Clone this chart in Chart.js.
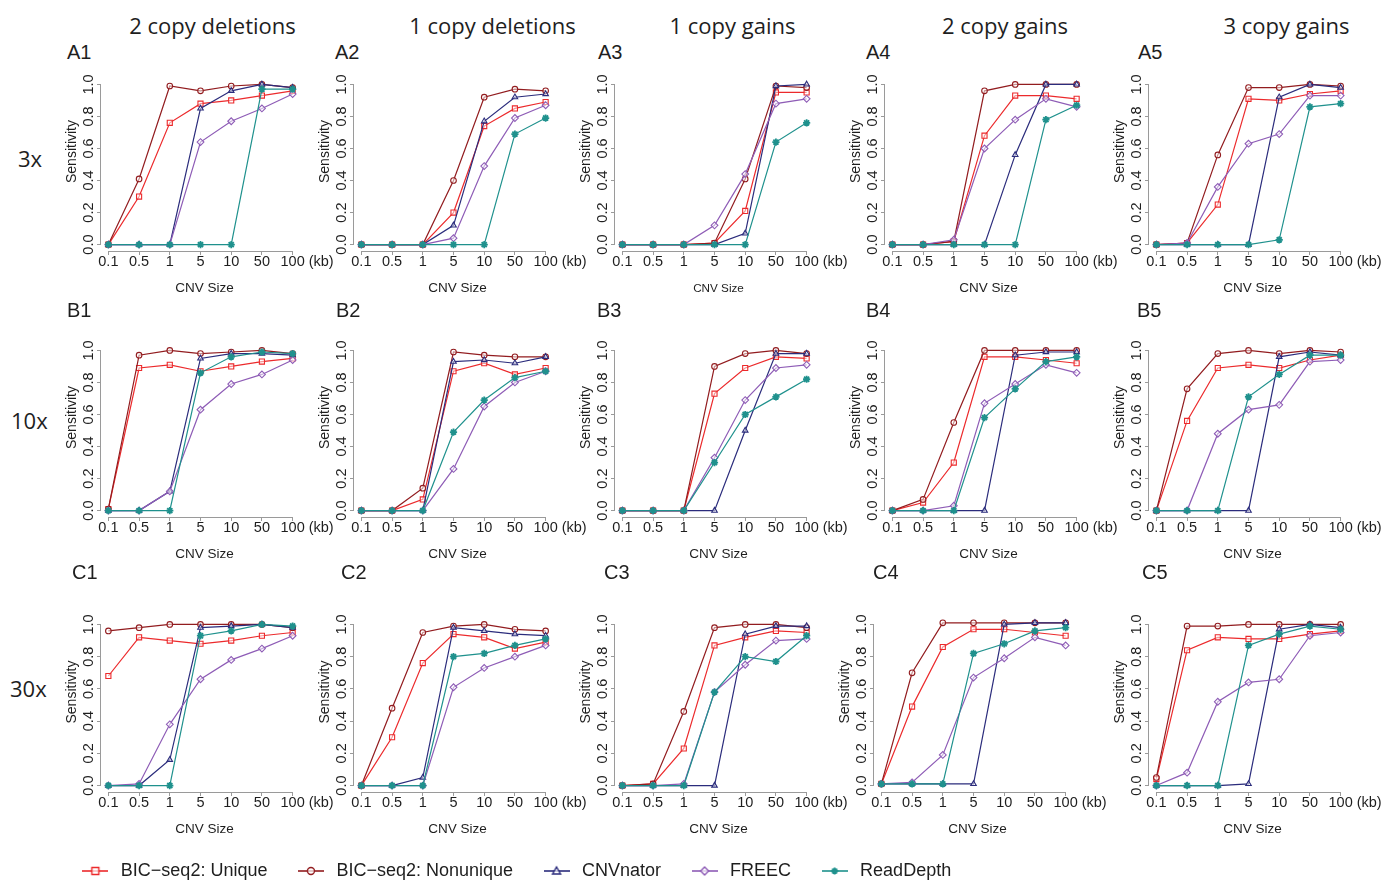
<!DOCTYPE html>
<html>
<head>
<meta charset="utf-8">
<script src="https://cdn.jsdelivr.net/npm/chart.js@4.4.1/dist/chart.umd.min.js"></script>
<style>
  body { margin: 0; background: #fff; width: 1381px; height: 883px; position: relative; overflow: hidden; }
  canvas { position: absolute; }
  .t { position: absolute; white-space: nowrap; color: #1e1e1e; }
  .head { font-family: 'Open Sans', sans-serif; font-size: 22px; transform: translate(-50%, -50%); }
  .cov { font-family: 'Open Sans', sans-serif; font-size: 22px; transform: translateY(-50%); }
  .pl { font-family: 'Liberation Sans', Arial, sans-serif; font-size: 20px; transform: translateY(-50%); }
</style>
</head>
<body>
<script>
const sizes = ['0.1', '0.5', '1', '5', '10', '50', '100'];
const yTicks = [0, 0.2, 0.4, 0.6, 0.8, 1.0];
const methods = ['BIC−seq2: Unique', 'BIC−seq2: Nonunique', 'CNVnator', 'FREEC', 'ReadDepth'];
const cnvTypes = ['2 copy deletions', '1 copy deletions', '1 copy gains', '2 copy gains', '3 copy gains'];
const coverages = ['3x', '10x', '30x'];
const xTitle = 'CNV Size', yTitle = 'Sensitivity', unit = '(kb)';

// sensitivity per panel, one row per method (same order as `methods`)
const A1 = [[0, 0.30, 0.76, 0.88, 0.90, 0.93, 0.96],
            [0, 0.41, 0.99, 0.96, 0.99, 1.00, 0.98],
            [0, 0, 0, 0.85, 0.96, 1.00, 0.98],
            [0, 0, 0, 0.64, 0.77, 0.85, 0.94],
            [0, 0, 0, 0, 0, 0.97, 0.97]];
const A2 = [[0, 0, 0, 0.20, 0.74, 0.85, 0.89],
            [0, 0, 0, 0.40, 0.92, 0.97, 0.96],
            [0, 0, 0, 0.12, 0.77, 0.92, 0.94],
            [0, 0, 0, 0.04, 0.49, 0.79, 0.87],
            [0, 0, 0, 0, 0, 0.69, 0.79]];
const A3 = [[0, 0, 0, 0.01, 0.21, 0.95, 0.95],
            [0, 0, 0, 0.01, 0.41, 0.99, 0.98],
            [0, 0, 0, 0, 0.07, 0.99, 1.00],
            [0, 0, 0, 0.12, 0.44, 0.88, 0.91],
            [0, 0, 0, 0, 0, 0.64, 0.76]];
const A4 = [[0, 0, 0.02, 0.68, 0.93, 0.93, 0.91],
            [0, 0, 0.02, 0.96, 1.00, 1.00, 1.00],
            [0, 0, 0, 0, 0.56, 1.00, 1.00],
            [0, 0, 0.03, 0.60, 0.78, 0.91, 0.86],
            [0, 0, 0, 0, 0, 0.78, 0.87]];
const A5 = [[0, 0.01, 0.25, 0.91, 0.90, 0.94, 0.96],
            [0, 0.01, 0.56, 0.98, 0.98, 1.00, 0.99],
            [0, 0, 0, 0, 0.92, 1.00, 0.98],
            [0, 0.01, 0.36, 0.63, 0.69, 0.93, 0.93],
            [0, 0, 0, 0, 0.03, 0.86, 0.88]];
const B1 = [[0.01, 0.89, 0.91, 0.87, 0.90, 0.93, 0.95],
            [0.01, 0.97, 1.00, 0.98, 0.99, 1.00, 0.98],
            [0, 0, 0.12, 0.95, 0.98, 0.98, 0.97],
            [0, 0, 0.12, 0.63, 0.79, 0.85, 0.94],
            [0, 0, 0, 0.86, 0.96, 0.99, 0.98]];
const B2 = [[0, 0, 0.07, 0.87, 0.92, 0.85, 0.89],
            [0, 0, 0.14, 0.99, 0.97, 0.96, 0.96],
            [0, 0, 0, 0.93, 0.94, 0.92, 0.96],
            [0, 0, 0, 0.26, 0.65, 0.80, 0.87],
            [0, 0, 0, 0.49, 0.69, 0.83, 0.87]];
const B3 = [[0, 0, 0, 0.73, 0.89, 0.96, 0.95],
            [0, 0, 0, 0.90, 0.98, 1.00, 0.98],
            [0, 0, 0, 0, 0.50, 0.98, 0.98],
            [0, 0, 0, 0.33, 0.69, 0.89, 0.91],
            [0, 0, 0, 0.30, 0.60, 0.71, 0.82]];
const B4 = [[0, 0.05, 0.30, 0.96, 0.96, 0.94, 0.92],
            [0, 0.07, 0.55, 1.00, 1.00, 1.00, 1.00],
            [0, 0, 0, 0, 0.97, 0.99, 0.99],
            [0, 0, 0.03, 0.67, 0.79, 0.91, 0.86],
            [0, 0, 0, 0.58, 0.76, 0.93, 0.96]];
const B5 = [[0, 0.56, 0.89, 0.91, 0.89, 0.94, 0.97],
            [0, 0.76, 0.98, 1.00, 0.98, 1.00, 0.99],
            [0, 0, 0, 0, 0.96, 0.99, 0.97],
            [0, 0, 0.48, 0.63, 0.66, 0.93, 0.94],
            [0, 0, 0, 0.71, 0.85, 0.97, 0.97]];
const C1 = [[0.68, 0.92, 0.90, 0.88, 0.90, 0.93, 0.95],
            [0.96, 0.98, 1.00, 1.00, 1.00, 1.00, 0.98],
            [0, 0, 0.16, 0.98, 0.99, 1.00, 0.98],
            [0, 0.01, 0.38, 0.66, 0.78, 0.85, 0.93],
            [0, 0, 0, 0.93, 0.96, 1.00, 0.99]];
const C2 = [[0, 0.30, 0.76, 0.94, 0.92, 0.85, 0.89],
            [0, 0.48, 0.95, 0.99, 1.00, 0.97, 0.96],
            [0, 0, 0.05, 0.98, 0.96, 0.94, 0.93],
            [0, 0, 0, 0.61, 0.73, 0.80, 0.87],
            [0, 0, 0, 0.80, 0.82, 0.87, 0.91]];
const C3 = [[0, 0.01, 0.23, 0.87, 0.92, 0.96, 0.95],
            [0, 0.01, 0.46, 0.98, 1.00, 1.00, 0.98],
            [0, 0, 0, 0, 0.94, 0.99, 0.99],
            [0, 0, 0.01, 0.58, 0.75, 0.90, 0.91],
            [0, 0, 0, 0.58, 0.80, 0.77, 0.93]];
const C4 = [[0.01, 0.49, 0.86, 0.97, 0.97, 0.95, 0.93],
            [0.01, 0.70, 1.01, 1.01, 1.01, 1.01, 1.01],
            [0.01, 0.01, 0.01, 0.01, 1.00, 1.01, 1.01],
            [0.01, 0.02, 0.19, 0.67, 0.79, 0.92, 0.87],
            [0.01, 0.01, 0.01, 0.82, 0.88, 0.96, 0.98]];
const C5 = [[0.04, 0.84, 0.92, 0.91, 0.91, 0.94, 0.96],
            [0.05, 0.99, 0.99, 1.00, 1.00, 1.00, 1.00],
            [0, 0, 0, 0.01, 0.97, 1.00, 0.98],
            [0, 0.08, 0.52, 0.64, 0.66, 0.93, 0.95],
            [0, 0, 0, 0.87, 0.94, 0.99, 0.97]];

const panels = [[A1, A2, A3, A4, A5], [B1, B2, B3, B4, B5], [C1, C2, C3, C4, C5]];

// look
const colors = ['#ec2a2c', '#921c1f', '#2b2c7c', '#8e5cb6', '#1f918d'];
const shapes = ['rect', 'circle', 'triangle', 'rectRot', 'star'];
const radii = [3.6, 2.8, 3.2, 3.4, 3.6];
const ptWidth = [1.1, 1.1, 1.1, 1.1, 1.8];
const fam = "'Liberation Sans', Arial, Helvetica, sans-serif";
const textColor = '#1e1e1e';
const axisColor = '#9a9a9a';

// layout (pixel of the first category and of value 1.0 for each panel)
const SP = 30.8;
const colX0 = [108, 361, 622, 892, 1156];
const rowTop = [84.3, 350.7, 624.7];
const rowH = [160, 160, 161];
const headX = [212.5, 492.5, 732.5, 1005, 1286.5];
const covX = [18, 11, 10], covY = [158, 420, 688];
const plX = [[67, 335, 598, 866, 1138], [67, 336, 597, 866, 1137], [72, 341, 604, 873, 1142]];
const plY = [52, 310, 572];
const YW = 44, XH = 48, PT = 12, PR = 40;

function addText(cls, txt, x, y) {
  const d = document.createElement('div');
  d.className = 't ' + cls;
  d.textContent = txt;
  d.style.left = x + 'px';
  d.style.top = y + 'px';
  document.body.appendChild(d);
}

cnvTypes.forEach((s, c) => addText('head', s, headX[c], 25));
coverages.forEach((s, r) => addText('cov', s, covX[r], covY[r]));

// R-like axes: lines only between first and last tick, plus titles
const rAxes = {
  id: 'rAxes',
  afterDraw(chart) {
    const {ctx, chartArea: a, scales: {x, y}} = chart;
    const o = chart.options.plugins.rAxes;
    const al = p => Math.round(p - 0.5) + 0.5;
    ctx.save();
    ctx.strokeStyle = axisColor;
    ctx.lineWidth = 1;
    ctx.beginPath();
    const by = Math.round(a.bottom) + 0.5;
    ctx.moveTo(al(x.getPixelForValue(0)), by);
    ctx.lineTo(al(x.getPixelForValue(sizes.length - 1)), by);
    const lx = Math.round(a.left) - 0.5;
    ctx.moveTo(lx, al(y.getPixelForValue(yTicks[0])));
    ctx.lineTo(lx, al(y.getPixelForValue(yTicks[yTicks.length - 1])));
    ctx.stroke();

    ctx.fillStyle = textColor;
    ctx.textBaseline = 'middle';
    ctx.font = '14.5px ' + fam;
    ctx.textAlign = 'left';
    ctx.fillText(unit, x.getPixelForValue(sizes.length - 1) + 16, a.bottom + 11);
    ctx.textAlign = 'center';
    ctx.font = o.xSize + 'px ' + fam;
    ctx.fillText(xTitle, (a.left + a.right) / 2 + 4, a.bottom + 37.3);
    ctx.translate(a.left - 28.5, (a.top + a.bottom) / 2 - 13);
    ctx.rotate(-Math.PI / 2);
    ctx.font = '14px ' + fam;
    ctx.fillText(yTitle, 0, 0);
    ctx.restore();
  }
};

panels.forEach((row, r) => {
  row.forEach((vals, c) => {
    const name = 'ABC'[r] + (c + 1);
    addText('pl', name, plX[r][c], plY[r]);

    const x0 = name === 'C4' ? 881 : colX0[c];
    const T = rowTop[r], h = rowH[r];
    const aL = x0 - 0.24 * SP, aR = x0 + 6.24 * SP;
    const aT = T - 0.04 * h, aB = T + 1.04 * h;
    const left = Math.round(aL - YW), top = Math.round(aT - PT);
    const cv = document.createElement('canvas');
    cv.width = Math.round(aR + PR) - left;
    cv.height = Math.round(aB + XH) - top;
    cv.style.left = left + 'px';
    cv.style.top = top + 'px';
    document.body.appendChild(cv);

    const tickFont = {family: fam, size: 14.5};
    new Chart(cv, {
      type: 'line',
      data: {
        datasets: methods.map((m, i) => ({
          label: m,
          data: vals[i].map((v, j) => ({x: j, y: v})),
          borderColor: colors[i],
          borderWidth: 1.2,
          pointStyle: shapes[i],
          pointRadius: radii[i],
          pointBorderWidth: ptWidth[i],
          pointBorderColor: colors[i],
          pointBackgroundColor: 'rgba(255,255,255,0.5)',
          tension: 0,
          order: methods.length - 1 - i,
          clip: false
        }))
      },
      options: {
        responsive: false,
        animation: false,
        events: [],
        layout: {padding: {left: 0, top: PT, right: PR, bottom: 0}},
        plugins: {
          legend: {display: false},
          tooltip: {enabled: false},
          rAxes: {xSize: name === 'A3' ? 11.7 : 13.5}
        },
        scales: {
          x: {
            type: 'linear', min: -0.24, max: sizes.length - 1 + 0.24,
            afterBuildTicks: s => { s.ticks = sizes.map((_, j) => ({value: j})); },
            afterFit: s => { s.height = XH; },
            ticks: {callback: (v, j) => sizes[j], autoSkip: false, minRotation: 0, maxRotation: 0,
                    padding: -2, color: textColor, font: tickFont},
            grid: {drawOnChartArea: false, drawTicks: true, tickLength: 4, color: axisColor},
            border: {display: false}
          },
          y: {
            min: -0.04, max: 1.04,
            afterBuildTicks: s => { s.ticks = yTicks.map(v => ({value: v})); },
            afterFit: s => { s.width = YW; },
            ticks: {callback: v => v.toFixed(1), autoSkip: false, minRotation: 90, maxRotation: 90,
                    crossAlign: 'center', padding: -2, color: textColor, font: tickFont},
            grid: {drawOnChartArea: false, drawTicks: true, tickLength: 4, color: axisColor},
            border: {display: false}
          }
        }
      },
      plugins: [rAxes]
    });
  });
});

// shared legend: a line with the marker on it, as in the R legend
function legendIcon(i) {
  const c = document.createElement('canvas');
  c.width = 26; c.height = 12;
  const g = c.getContext('2d');
  g.strokeStyle = colors[i];
  g.lineWidth = 1.6;
  g.beginPath(); g.moveTo(0, 6); g.lineTo(26, 6); g.stroke();
  g.fillStyle = 'rgba(255,255,255,0.7)';
  g.lineWidth = i === 4 ? 1.8 : 1.4;
  const cx = 13, cy = 6, s = 3.5;
  g.beginPath();
  if (shapes[i] === 'rect') {
    g.rect(cx - s, cy - s, 2 * s, 2 * s);
  } else if (shapes[i] === 'circle') {
    g.arc(cx, cy, s, 0, Math.PI * 2);
  } else if (shapes[i] === 'triangle') {
    g.moveTo(cx, cy - s - 0.5); g.lineTo(cx + s + 0.5, cy + s - 0.5); g.lineTo(cx - s - 0.5, cy + s - 0.5); g.closePath();
  } else if (shapes[i] === 'rectRot') {
    g.moveTo(cx, cy - s - 0.5); g.lineTo(cx + s + 0.5, cy); g.lineTo(cx, cy + s + 0.5); g.lineTo(cx - s - 0.5, cy); g.closePath();
  }
  if (shapes[i] === 'star') {
    g.moveTo(cx - s, cy); g.lineTo(cx + s, cy);
    g.moveTo(cx, cy - s); g.lineTo(cx, cy + s);
    g.moveTo(cx - s * 0.7, cy - s * 0.7); g.lineTo(cx + s * 0.7, cy + s * 0.7);
    g.moveTo(cx - s * 0.7, cy + s * 0.7); g.lineTo(cx + s * 0.7, cy - s * 0.7);
  } else {
    g.fill();
  }
  g.stroke();
  return c;
}
const icons = methods.map((m, i) => legendIcon(i));

// legend rows start at top + padding, text centre at top + padding + font/2
const LP = 27;
const lc = document.createElement('canvas');
lc.width = 1030; lc.height = 70;
lc.style.left = '0px'; lc.style.top = (871 - LP - 9) + 'px';
document.body.appendChild(lc);
new Chart(lc, {
  type: 'line',
  data: {datasets: methods.map(m => ({label: m, data: []}))},
  options: {
    responsive: false,
    animation: false,
    events: [],
    scales: {x: {display: false}, y: {display: false}},
    plugins: {
      tooltip: {enabled: false},
      legend: {
        display: true, position: 'top', align: 'center', maxHeight: 64,
        labels: {
          usePointStyle: true, pointStyleWidth: 33, padding: LP,
          color: textColor, font: {family: fam, size: 18},
          generateLabels: () => methods.map((m, i) => ({
            text: m, pointStyle: icons[i], fillStyle: colors[i], strokeStyle: colors[i],
            fontColor: textColor, lineWidth: 0, hidden: false, datasetIndex: i
          }))
        }
      }
    }
  }
});
</script>
</body>
</html>
